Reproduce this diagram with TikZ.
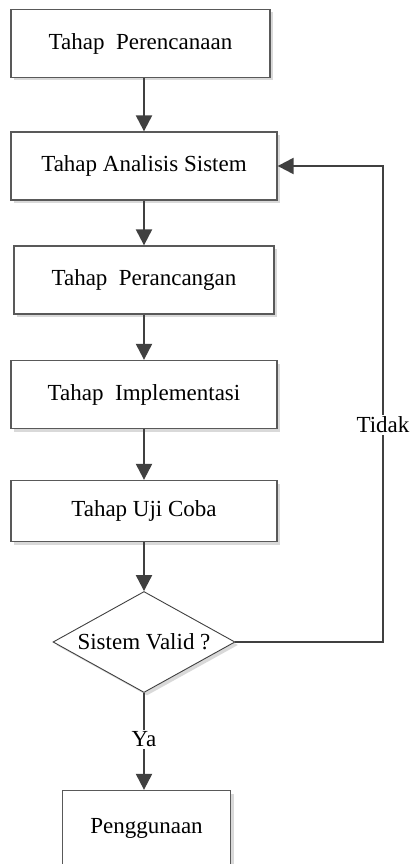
\documentclass[tikz,border=0pt]{standalone}
\usepackage{fontspec}
\setmainfont{Liberation Serif}
\usetikzlibrary{positioning,shapes,arrows.meta,shadows}

\begin{document}
\begin{tikzpicture}[x=1pt,y=-1pt]
      \tikzstyle{tahap} = [rectangle, draw=black!65, line width=1.3pt,
      fill=white, inner sep=0pt, minimum height=68pt,
      drop shadow={shadow xshift=3pt, shadow yshift=-3pt, fill=black!15,
        opacity=1}, font=\fontsize{23}{27}\selectfont]
      \tikzstyle{keputusan} = [diamond, draw=black!75, line width=0.9pt,
      fill=white, inner sep=0pt, aspect=1.8, minimum width=182pt,
      minimum height=101pt, drop shadow={shadow xshift=3pt,
        shadow yshift=-3pt, fill=black!15, opacity=1},
      font=\fontsize{23}{27}\selectfont]
      \tikzstyle{alur} = [draw=black!75, line width=2.2pt,
      -{Triangle[length=16pt,width=16pt]}]
      \tikzstyle{ket} = [fill=white, inner sep=2pt,
      font=\fontsize{23}{27}\selectfont]
      \useasboundingbox (0,0) rectangle (412,864);
      \node[tahap, minimum width=259pt] (rencana) at (140.5,43.5)
      {Tahap\ \ Perencanaan}; \node[tahap, minimum width=266pt]
      (analisis) at (144,166) {Tahap Analisis Sistem};
      \node[tahap, minimum width=260pt] (rancang) at (144,280)
      {Tahap\ \ Perancangan}; \node[tahap, minimum width=266pt]
      (implementasi) at (144,394.5) {Tahap\ \ Implementasi};
      \node[tahap, minimum width=266pt, minimum height=61pt] (uji) at
      (144,511) {Tahap Uji Coba}; \node[keputusan] (valid) at
      (144,642) {Sistem Valid ?}; \node[tahap, minimum width=168pt,
      minimum height=75pt] (guna) at (146.5,828) {Penggunaan};
      \coordinate (balik) at (383,166);
      % alur utama
      \draw[alur] (rencana.south -| analisis.north) -- (analisis.north);
      \draw[alur] (analisis) -- (rancang); \draw[alur] (rancang) --
      (implementasi); \draw[alur] (implementasi) -- (uji);
      \draw[alur] (uji) -- (valid);
      \draw[alur] (valid.south) -- node[ket, pos=0.48]{Ya}
      (valid.south |- guna.north);
      % kembali ke analisis
      \draw[alur] (valid.east) -| node[ket, pos=0.728]{Tidak} (balik)
      -- (analisis.east);
    \end{tikzpicture}
\end{document}
